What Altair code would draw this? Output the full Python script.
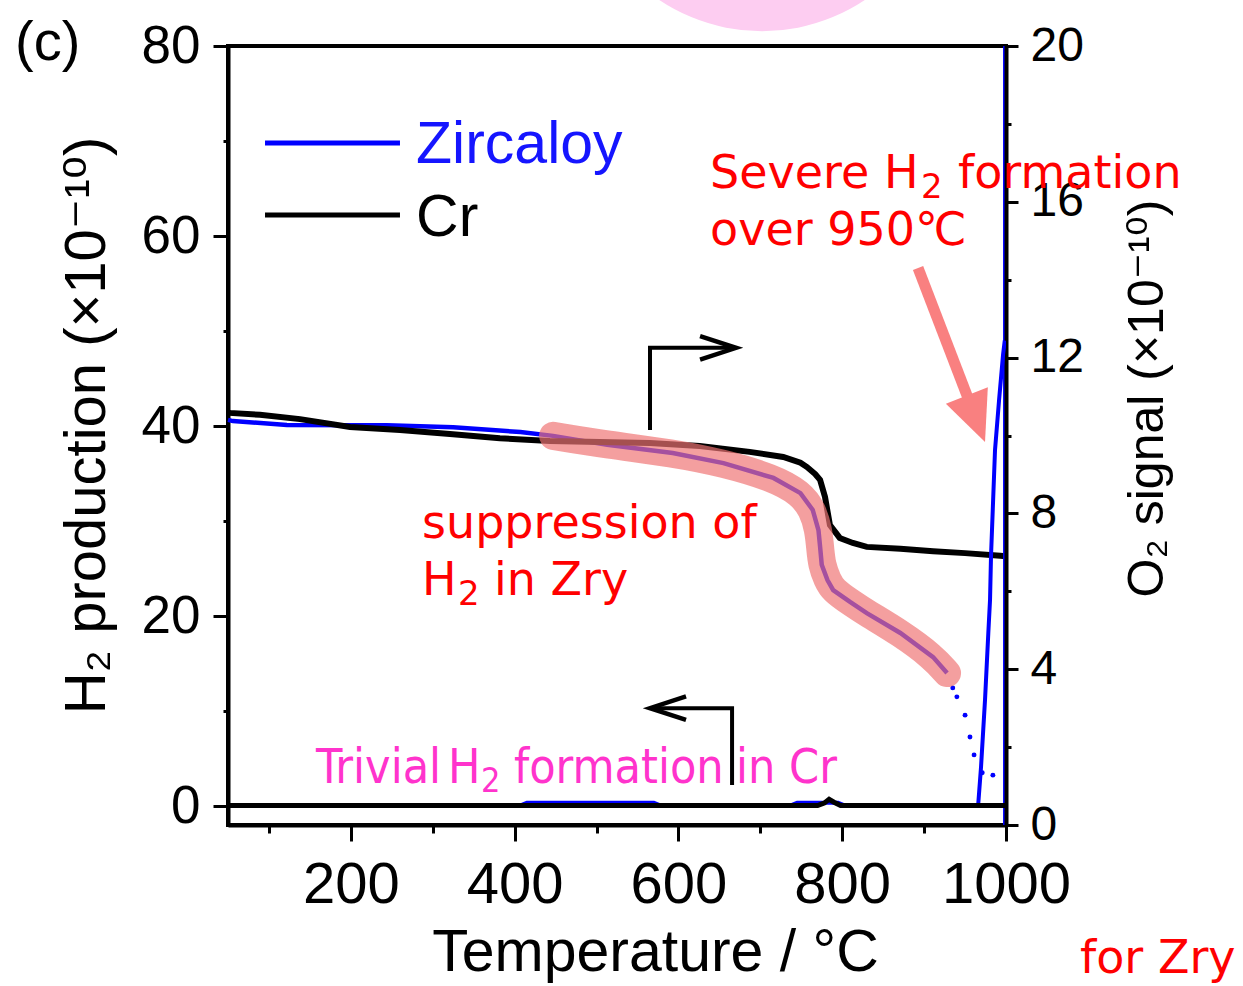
import altair as alt
import pandas as pd

# ---------------- data (temperature in °C) ----------------
# O2 signal, right axis (x1e-10)
zry_o2_t = [50, 56, 122, 244, 325, 407, 447, 513, 593, 655, 716, 749, 764, 771,
            773, 775, 782, 789, 810, 830, 871, 911, 928]
zry_o2_v = [10.40, 10.37, 10.27, 10.26, 10.21, 10.09, 9.99, 9.76, 9.55, 9.29, 8.91,
            8.52, 8.09, 7.57, 7.14, 6.68, 6.29, 6.03, 5.72, 5.44, 4.93, 4.31, 3.90]
# sparse readings at the end of the Zircaloy O2 run
zry_o2_tail_t = [935, 940, 950, 956, 961, 971, 984]
zry_o2_tail_v = [3.52, 3.29, 2.82, 2.26, 1.80, 1.34, 1.28]

cr_o2_t = [50, 52, 89, 138, 199, 260, 321, 382, 443, 504, 565, 626, 687, 728,
           749, 757, 767, 773, 779, 785, 797, 813, 830, 871, 911, 950, 993, 1000]
cr_o2_v = [10.60, 10.58, 10.53, 10.42, 10.22, 10.14, 10.04, 9.93, 9.86, 9.83, 9.81,
           9.73, 9.58, 9.45, 9.30, 9.19, 9.01, 8.86, 8.42, 7.70, 7.37, 7.24, 7.14,
           7.09, 7.03, 6.98, 6.91, 6.90]

# H2 production, left axis (x1e-10)
zry_h2_t = [50, 405, 415, 570, 580, 735, 745, 795, 805, 960, 966, 969.5, 974.4,
            978.4, 980.5, 981.7, 986.6, 991.5, 996.4, 998.5]
zry_h2_v = [0.0, 0.0, 0.35, 0.35, 0.0, 0.0, 0.35, 0.35, 0.0, 0.0, 0.1, 4.1, 11.2,
            18.2, 21.7, 26.3, 37.5, 42.7, 47.5, 49.0]
# isothermal hold at the top temperature (signal runs off scale)
zry_hold_t = [997.3, 997.3]
zry_hold_v = [-2.0, 80.0]

cr_h2_t = [50, 770, 778, 784, 790, 798, 1000]
cr_h2_v = [0.05, 0.05, 0.3, 0.7, 0.4, 0.05, 0.05]

# band highlighting the Zircaloy O2 drop
band_range = (447, 928)

# ---------------- styling ----------------
BLUE = "#0000ff"
RED = "#ff0000"
MAGENTA = "#ff33cc"
SALMON = "#f98080"
SANS = "Liberation Sans, Arial, DejaVu Sans"
VERD = "DejaVu Sans"
VERD_NARROW = "DejaVu Sans Condensed, DejaVu Sans"


def frame(t, v, **extra):
    d = {"t": t, "v": v}
    d.update(extra)
    return pd.DataFrame(d)


x_axis = alt.Axis(
    values=list(range(100, 1001, 100)), format="d",
    labelExpr="datum.value % 200 === 0 ? datum.label : ''",
    tickSize={"condition": {"test": "datum.value % 200 === 0", "value": 16}, "value": 8},
    tickWidth=3, tickColor="black", domainWidth=4, domainColor="black",
    labelFont=SANS, labelFontSize=58, labelColor="black", labelPadding=15,
    labelFlush=False, labelOverlap=False, grid=False,
    titleFont=SANS, titleFontSize=59, titleFontWeight="normal", titleColor="black",
    titleX=427, titleY=145, titleAlign="center", titleBaseline="alphabetic",
)
x_enc = alt.X("t:Q", scale=alt.Scale(domain=[50, 1000], nice=False, zero=False),
              axis=x_axis, title="Temperature / °C")

left_axis = alt.Axis(
    orient="left", values=list(range(0, 81, 10)),
    labelExpr="datum.value % 20 === 0 ? datum.label : ''",
    tickSize={"condition": {"test": "datum.value % 20 === 0", "value": 15}, "value": 5},
    tickWidth=3, tickColor="black", domainWidth=4, domainColor="black",
    labelFont=SANS, labelFontSize=53, labelColor="black", labelPadding=13,
    labelFlush=False, labelOverlap=False, grid=False,
    titleFont=SANS, titleFontSize=58, titleFontWeight="normal", titleColor="black",
    titleAngle=270, titleX=-124, titleY=379, titleAlign="center",
    titleBaseline="alphabetic",
)
y_left = alt.Y("v:Q", scale=alt.Scale(domain=[-2, 80], nice=False, zero=False),
               axis=left_axis, title="H₂ production (×10⁻¹⁰)")

right_axis = alt.Axis(
    orient="right", values=list(range(0, 21, 2)),
    labelExpr="datum.value % 4 === 0 ? datum.label : ''",
    tickSize={"condition": {"test": "datum.value % 4 === 0", "value": 12}, "value": 5},
    tickWidth=3, tickColor="black", domainWidth=4, domainColor="black",
    labelFont=SANS, labelFontSize=48, labelColor="black", labelPadding=12,
    labelFlush=False, labelOverlap=False, grid=False,
    titleFont=SANS, titleFontSize=50, titleFontWeight="normal", titleColor="black",
    titleAngle=270, titleX=156, titleY=352, titleAlign="center",
    titleBaseline="alphabetic",
)
y_right = alt.Y("v:Q", scale=alt.Scale(domain=[0, 20], nice=False, zero=False),
                axis=right_axis, title="O₂ signal (×10⁻¹⁰)")

# annotations use the O2 units, without an axis of their own
y_ann = alt.Y("v:Q", scale=alt.Scale(domain=[0, 20], nice=False, zero=False), axis=None)

# ---------------- O2 layers ----------------
zry_o2 = alt.Chart(frame(zry_o2_t, zry_o2_v)).mark_line(
    color=BLUE, strokeWidth=4.5).encode(x=x_enc, y=y_right)
zry_tail = alt.Chart(frame(zry_o2_tail_t, zry_o2_tail_v)).mark_circle(
    color=BLUE, size=24, opacity=1).encode(x=x_enc, y=y_right)
cr_o2 = alt.Chart(frame(cr_o2_t, cr_o2_v)).mark_line(
    color="black", strokeWidth=6).encode(x=x_enc, y=y_right)
band_pts = [(t, v) for t, v in zip(zry_o2_t, zry_o2_v) if band_range[0] <= t <= band_range[1]]
band = alt.Chart(frame([p[0] for p in band_pts], [p[1] for p in band_pts])).mark_line(
    color="#ef7474", opacity=0.69, strokeWidth=28, strokeCap="round",
    strokeJoin="round", interpolate="basis").encode(x=x_enc, y=y_right)
o2_group = alt.layer(zry_o2, cr_o2, zry_tail, band)

# ---------------- H2 layers ----------------
zry_h2 = alt.Chart(frame(zry_h2_t, zry_h2_v)).mark_line(
    color=BLUE, strokeWidth=4, clip=True).encode(x=x_enc, y=y_left)
zry_hold = alt.Chart(frame(zry_hold_t, zry_hold_v)).mark_line(
    color=BLUE, strokeWidth=1.5, clip=True).encode(x=x_enc, y=y_left)
cr_h2 = alt.Chart(frame(cr_h2_t, cr_h2_v)).mark_line(
    color="black", strokeWidth=5).encode(x=x_enc, y=y_left)
h2_group = alt.layer(zry_h2, zry_hold, cr_h2)

# ---------------- annotations ----------------
blob = alt.Chart(frame([702.1], [25.13])).mark_point(
    shape="circle", filled=True, size=136900, color="#fdcdf1", opacity=1
).encode(x=x_enc, y=y_ann)

legend_lines = alt.Chart(frame([95.2, 95.2], [17.51, 15.66], t2=[260.0, 260.0],
                               c=[BLUE, "black"])).mark_rule(strokeWidth=5).encode(
    x=x_enc, x2="t2:Q", y=y_ann, color=alt.Color("c:N", scale=None))
legend_text = alt.Chart(frame([279.6, 279.6], [17.0, 15.12], label=["Zircaloy", "Cr"],
                              c=["#1515ff", "black"])).mark_text(
    align="left", baseline="alphabetic", font=SANS, fontSize=59).encode(
    x=x_enc, y=y_ann, text="label:N", color=alt.Color("c:N", scale=None))

# red call-outs, set in pieces so the subscript 2 sits below the line
red_pieces = frame(
    [638.6, 896.3, 941.4, 638.6, 286.9, 286.9, 330.9, 374.8, 1090.4],
    [16.35, 16.10, 16.35, 14.89, 7.37, 5.90, 5.65, 5.90, -3.80],
    label=["Severe H", "2", "formation", "over 950℃", "suppression of",
           "H", "2", "in Zry", "for Zry"],
    fs=[46, 34, 46, 46, 46, 46, 34, 46, 46],
)
red_text = alt.Chart(red_pieces).mark_text(
    align="left", baseline="alphabetic", font=VERD, color=RED).encode(
    x=x_enc, y=y_ann, text="label:N", size=alt.Size("fs:Q", scale=None))

pink_pieces = frame(
    [157.5, 318.7, 359.0, 399.2, 670.3],
    [1.08, 1.08, 0.85, 1.08, 1.08],
    label=["Trivial", "H", "2", "formation", "in Cr"],
    fs=[48, 48, 34, 48, 48],
)
pink_text = alt.Chart(pink_pieces).mark_text(
    align="left", baseline="alphabetic", font=VERD_NARROW, color=MAGENTA).encode(
    x=x_enc, y=y_ann, text="label:N", size=alt.Size("fs:Q", scale=None))

panel = alt.Chart(frame([-210], [19.64], label=["(c)"])).mark_text(
    align="left", baseline="alphabetic", font=SANS, fontSize=56, color="black").encode(
    x=x_enc, y=y_ann, text="label:N")

# axis pointer arrows
pointer_lines = alt.Chart(frame(
    [565.3, 565.3, 666.7, 665.5, 665.5, 567.8],
    [10.14, 12.25, 12.25, 1.03, 3.00, 3.00],
    o=[0, 1, 2, 0, 1, 2], k=["r", "r", "r", "l", "l", "l"])).mark_line(
    color="black", strokeWidth=4, strokeJoin="miter").encode(
    x=x_enc, y=y_ann, order="o:O", detail="k:N")
pointer_heads = alt.Chart(frame([648.4, 587.3], [12.25, 3.00], a=[0, 180])).mark_point(
    shape="M-1,-0.65L1,0L-1,0.65", filled=False, size=1296, strokeWidth=4.5,
    color="black", opacity=1).encode(x=x_enc, y=y_ann, angle=alt.Angle("a:Q", scale=None))

callout_shaft = alt.Chart(frame([892.6], [14.30], t2=[963.3], v2=[10.43])).mark_rule(
    color=SALMON, strokeWidth=11).encode(x=x_enc, y=y_ann, x2="t2:Q", y2="v2:Q")
callout_head = alt.Chart(frame([963.3], [10.43])).mark_point(
    shape="M0,-1L0.9,1L-0.9,1Z", filled=True, size=2500, color=SALMON, opacity=1,
    angle=158.7).encode(x=x_enc, y=y_ann)

ann_group = alt.layer(blob, legend_lines, legend_text, red_text, pink_text, panel,
                      pointer_lines, pointer_heads, callout_shaft, callout_head)

chart = alt.layer(o2_group, h2_group, ann_group).resolve_scale(y="independent").properties(
    width=778, height=779,
    autosize=alt.AutoSizeParams(type="none"),
    padding={"left": 228, "top": 46, "right": 237, "bottom": 161},
    background="white",
).configure_view(stroke="black", strokeWidth=4)

chart.save("out.html", embed_options={"renderer": "svg", "actions": False})
